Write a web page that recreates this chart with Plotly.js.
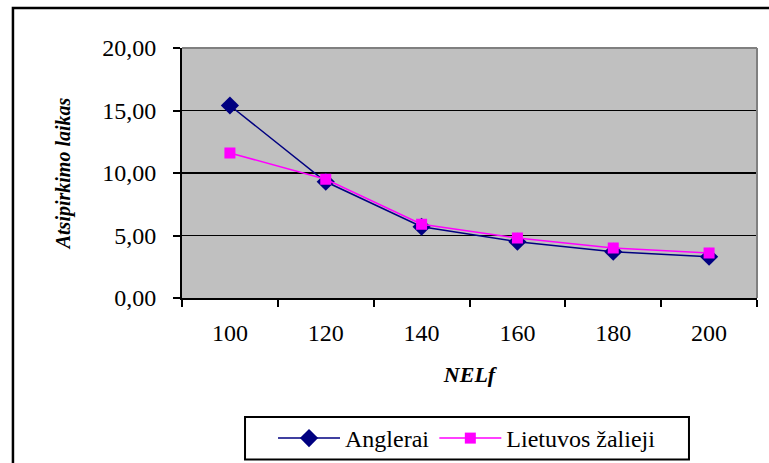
<!DOCTYPE html>
<html>
<head>
<meta charset="utf-8">
<script src="https://cdn.plot.ly/plotly-3.0.1.min.js"></script>
<style>
html,body{margin:0;padding:0;background:#fff;overflow:hidden;}
#chart{width:769px;height:463px;}
</style>
</head>
<body>
<div id="chart"></div>
<script>
var categories = ["100", "120", "140", "160", "180", "200"];
var anglerai = [15.4, 9.3, 5.7, 4.5, 3.7, 3.3];
var lietuvos = [11.6, 9.5, 5.9, 4.8, 4.0, 3.6];
var yTicks = [0, 5, 10, 15, 20];

var font = "Liberation Serif";

var traces = [
  {
    x: categories, y: anglerai, name: "Anglerai", type: "scatter", mode: "lines+markers",
    line: {color: "#000080", width: 1.5},
    marker: {symbol: "diamond", size: 14, color: "#000080"}
  },
  {
    x: categories, y: lietuvos, name: "Lietuvos žalieji", type: "scatter", mode: "lines+markers",
    line: {color: "#FF00FF", width: 1.5},
    marker: {symbol: "square", size: 11, color: "#FF00FF"}
  }
];

var layout = {
  width: 769, height: 463,
  margin: {l: 182, r: 12, t: 48, b: 165, autoexpand: false},
  paper_bgcolor: "#ffffff",
  plot_bgcolor: "#C0C0C0",
  separators: ", ",
  font: {family: font, color: "#000", size: 24},
  showlegend: true,
  legend: {
    orientation: "h", xref: "paper", x: 0.4957, xanchor: "center",
    yref: "paper", y: -0.562, yanchor: "middle",
    borderwidth: 0, bgcolor: "rgba(0,0,0,0)",
    font: {family: font, size: 24, color: "#000"},
    itemwidth: 62, traceorder: "normal"
  },
  xaxis: {
    type: "category",
    range: [-0.5, 5.5],
    tickson: "boundaries",
    ticks: "outside", ticklen: 7, tickwidth: 2, tickcolor: "#000",
    ticklabelstandoff: 12,
    showline: true, linecolor: "#000", linewidth: 2,
    showgrid: false, zeroline: false, automargin: false,
    tickfont: {family: font, size: 24},
    title: {text: "<b><i>NELf</i></b>", font: {family: font, size: 22}, standoff: 22}
  },
  yaxis: {
    range: [0, 20],
    tickvals: yTicks,
    tickformat: ".2f",
    ticks: "outside", ticklen: 7, tickwidth: 2, tickcolor: "#000",
    ticklabelstandoff: 12,
    showline: true, linecolor: "#000", linewidth: 2,
    showgrid: true, gridcolor: "#000", gridwidth: 1.5,
    zeroline: false, automargin: false,
    tickfont: {family: font, size: 24},
    title: {text: "<b><i>Atsipirkimo laikas</i></b>", font: {family: font, size: 20}, standoff: 26}
  },
  shapes: [
    {type: "line", xref: "paper", yref: "paper", x0: 0, x1: 1, y0: 1, y1: 1, line: {color: "#808080", width: 2}, layer: "above"},
    {type: "line", xref: "paper", yref: "paper", x0: 1, x1: 1, y0: 0, y1: 1, line: {color: "#808080", width: 2}, layer: "above"},
    {type: "rect", xref: "paper", yref: "paper", x0: -0.294, x1: 1.06, y0: -0.8, y1: 1.16, line: {color: "#000", width: 2.5}, fillcolor: "rgba(0,0,0,0)", layer: "below"},
    {type: "rect", xref: "paper", yref: "paper", x0: 0.1096, x1: 0.8817, y0: -0.646, y1: -0.476, line: {color: "#000", width: 2}, fillcolor: "#ffffff", layer: "above"}
  ]
};

Plotly.newPlot("chart", traces, layout, {displayModeBar: false, staticPlot: true});
</script>
</body>
</html>
